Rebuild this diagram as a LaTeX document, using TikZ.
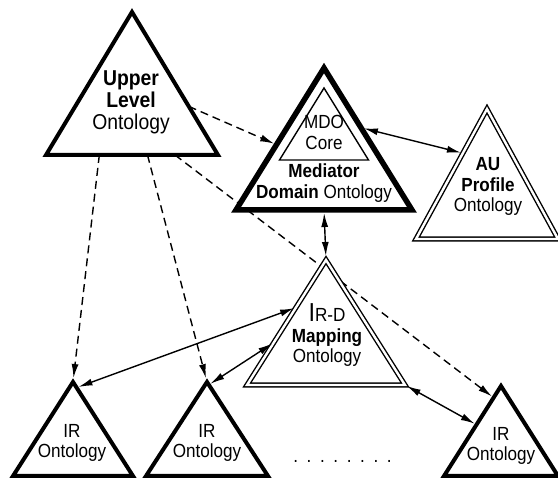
\documentclass[tikz,border=0pt]{standalone}
\usepackage{fontspec}
\setmainfont[FakeStretch=0.9]{Liberation Sans}
\usetikzlibrary{arrows.meta,calc}

% triangle corners: name, apex x, apex y, half width, height
\newcommand{\tri}[5]{%
  \coordinate (#1-t) at (#2,#3);
  \coordinate (#1-l) at (#2-#4,#3+#5);
  \coordinate (#1-r) at (#2+#4,#3+#5);}
\newcommand{\ellip}{.\foreach\k in {1,...,7}{\kern8.6pt.}}

\begin{document}
\begin{tikzpicture}[x=1pt,y=-1pt,
  ontotip/.tip={Latex[length=14pt,width=7pt]},
  trishape/.style={line join=miter,fill=white},
  heavy/.style={trishape,line width=4pt},
  heavier/.style={trishape,line width=5.5pt},
  twin/.style={trishape,double,double distance=2.4pt,line width=1.4pt},
  dep/.style={-ontotip,dash pattern=on 8pt off 5pt,line width=1.4pt},
  link/.style={ontotip-ontotip,line width=1.4pt},
  lbl/.style={align=center,inner sep=0pt,font=\fontsize{19}{20.5}\selectfont}]
  \useasboundingbox (0,0) rectangle (558,481);

  \tri{ulo}{132}{12}{86}{143}
  \tri{mdo}{324}{68}{88}{142}
  \tri{core}{324}{88}{44.5}{72}
  \tri{aup}{487}{109}{71}{130}
  \tri{map}{326}{260}{79}{125}
  \tri{ir1}{73}{382}{60}{94}
  \tri{ir2}{207}{382}{61}{94}
  \tri{ir3}{501}{386}{57}{90}

  % runs behind the mapping triangle
  \draw[dep,shorten >=2pt] ($(ulo-l)!0.75!(ulo-r)$) -- ($(ir3-t)!0.13!(ir3-l)$);

  \draw[heavy]   (ulo-t) -- (ulo-l) -- (ulo-r) -- cycle;
  \draw[heavier] (mdo-t) -- (mdo-l) -- (mdo-r) -- cycle;
  \draw[trishape,line width=1.4pt] (core-t) -- (core-l) -- (core-r) -- cycle;
  \draw[twin]    (aup-t) -- (aup-l) -- (aup-r) -- cycle;
  \draw[twin]    (map-t) -- (map-l) -- (map-r) -- cycle;
  \draw[heavy]   (ir1-t) -- (ir1-l) -- (ir1-r) -- cycle;
  \draw[heavy]   (ir2-t) -- (ir2-l) -- (ir2-r) -- cycle;
  \draw[heavy]   (ir3-t) -- (ir3-l) -- (ir3-r) -- cycle;

  \node[lbl,font=\fontsize{21.5}{22}\selectfont] (ulo) at (131,102.5)
    {\textbf{Upper}\\\textbf{Level}\\Ontology};
  \node[lbl] (core) at (324,132.5) {MDO\\Core};
  \node[lbl] (mdo) at (324,183) {\textbf{Mediator}\\\textbf{Domain} Ontology};
  \node[lbl] (aup) at (488,186.5) {\textbf{AU}\\\textbf{Profile}\\Ontology};
  \node[lbl] (map) at (327,335.5)
    {{\fontsize{26}{26}\selectfont I}R-D\\\textbf{Mapping}\\Ontology};
  \node[lbl] (ir1) at (72,443) {IR\\Ontology};
  \node[lbl] (ir2) at (207,443) {IR\\Ontology};
  \node[lbl] (ir3) at (501,446) {IR\\Ontology};
  \node[lbl,anchor=base] (more) at (342.5,463) {\ellip};

  \draw[dep,shorten >=2.5pt] ($(ulo-t)!0.66!(ulo-r)$) -- ($(mdo-t)!0.54!(mdo-l)$);
  \draw[dep,shorten >=4pt] ($(ulo-l)!0.31!(ulo-r)$) -- (ir1-t);
  \draw[dep,shorten >=4pt] ($(ulo-l)!0.59!(ulo-r)$) -- (ir2-t);

  \draw[link,shorten <=3pt,shorten >=2pt] ($(mdo-t)!0.42!(mdo-r)$) -- ($(aup-t)!0.34!(aup-l)$);
  \draw[link,shorten <=3pt,shorten >=4pt] ($(mdo-l)!0.5!(mdo-r)$) -- (map-t);
  \draw[link,shorten <=2pt,shorten >=2pt] ($(map-t)!0.38!(map-l)$) -- ($(ir1-t)!0.06!(ir1-r)$);
  \draw[link,shorten <=2pt,shorten >=2pt] ($(map-t)!0.66!(map-l)$) -- ($(ir2-t)!0.03!(ir2-r)$);
  \draw[link,shorten <=2pt,shorten >=2pt] (map-r) -- ($(ir3-t)!0.43!(ir3-l)$);
\end{tikzpicture}
\end{document}
